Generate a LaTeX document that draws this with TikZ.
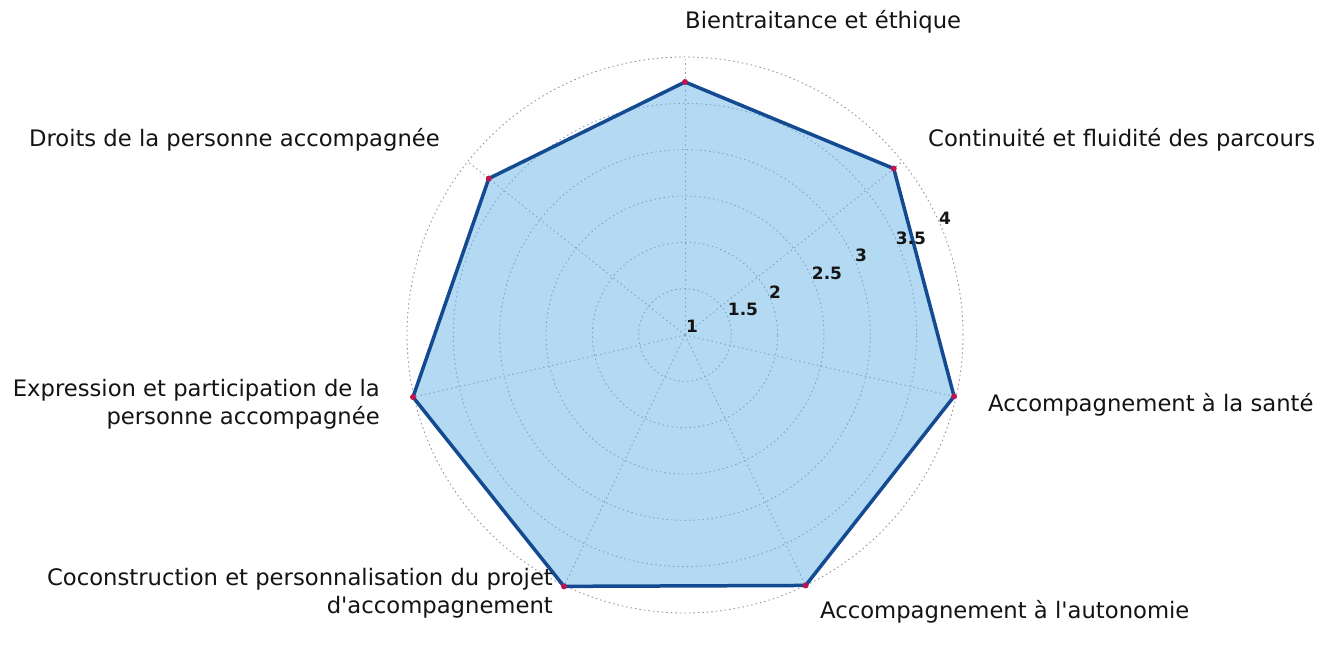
\documentclass[tikz,border=0pt]{standalone}
\usepackage{fontspec}
\setmainfont{DejaVu Sans}[Ligatures=TeXOff]
\usetikzlibrary{calc}
\definecolor{fillblue}{RGB}{180,218,243}
\definecolor{lineblue}{RGB}{20,74,145}
\definecolor{markred}{RGB}{190,20,80}
\definecolor{gridgrey}{RGB}{150,150,160}
\definecolor{gridblue}{RGB}{125,165,205}
\definecolor{txt}{RGB}{20,20,20}
\tikzset{
  outergrid/.style={draw=gridgrey, line width=0.9pt, dash pattern=on 1.5pt off 3pt},
  innergrid/.style={draw=gridblue, line width=0.9pt, dash pattern=on 1.5pt off 3pt},
  series/.style={draw=lineblue, line width=3.5pt, line join=round},
  marker/.style={circle, fill=markred, inner sep=0pt, minimum size=6pt},
  catlabel/.style={font=\fontsize{22.7}{28}\selectfont, text=txt, inner sep=0pt},
  ticklabel/.style={font=\bfseries\fontsize{17}{20}\selectfont, text=txt, inner sep=0pt},
}
\begin{document}
\begin{tikzpicture}[x=1pt,y=1pt]
\useasboundingbox (0,0) rectangle (1330,645);
\fill[white] (0,0) rectangle (1330,645);
\coordinate (C) at (685,310);
% series vertices
\coordinate (v1) at ($(C)+(90:253)$);
\coordinate (v2) at ($(C)+(38.571:267)$);
\coordinate (v3) at ($(C)+(-12.857:276)$);
\coordinate (v4) at ($(C)+(-64.286:278)$);
\coordinate (v5) at ($(C)+(-115.714:279)$);
\coordinate (v6) at ($(C)+(-167.143:279)$);
\coordinate (v7) at ($(C)+(141.429:251)$);
% outer circle
\draw[outergrid] (C) circle (278);
% filled series
\fill[fillblue] (v1) -- (v2) -- (v3) -- (v4) -- (v5) -- (v6) -- (v7) -- cycle;
% inner grid
\foreach \k in {1,...,5} { \draw[innergrid] (C) circle ({278*\k/6}); }
\foreach \a in {90,38.571,-12.857,-64.286,-115.714,-167.143,141.429} {
  \draw[innergrid] (C) -- ($(C)+(\a:278)$);
}
% series line
\draw[series] (v1) -- (v2) -- (v3) -- (v4) -- (v5) -- (v6) -- (v7) -- cycle;
\foreach \i in {1,...,7} { \node[marker] (m\i) at (v\i) {}; }
% tick labels
\node[ticklabel] (t1) at (692,319) {1};
\node[ticklabel] (t15) at (743,336) {1.5};
\node[ticklabel] (t2) at (775,353) {2};
\node[ticklabel] (t25) at (827,372) {2.5};
\node[ticklabel] (t3) at (861,390) {3};
\node[ticklabel] (t35) at (911,407) {3.5};
\node[ticklabel] (t4) at (945,427) {4};
% category labels
\node[catlabel, anchor=west] (l1) at (685,623) {Bientraitance et éthique};
\node[catlabel, anchor=west] (l2) at (928,505) {Continuité et fluidité des parcours};
\node[catlabel, anchor=west] (l3) at (988,240) {Accompagnement à la santé};
\node[catlabel, anchor=west] (l4) at (820,33) {Accompagnement à l'autonomie};
\node[catlabel, anchor=east, align=right] (l5) at (553,52) {Coconstruction et personnalisation du projet\\d'accompagnement};
\node[catlabel, anchor=east, align=right] (l6) at (380,241) {Expression et participation de la\\personne accompagnée};
\node[catlabel, anchor=east] (l7) at (440,505) {Droits de la personne accompagnée};
\end{tikzpicture}
\end{document}
